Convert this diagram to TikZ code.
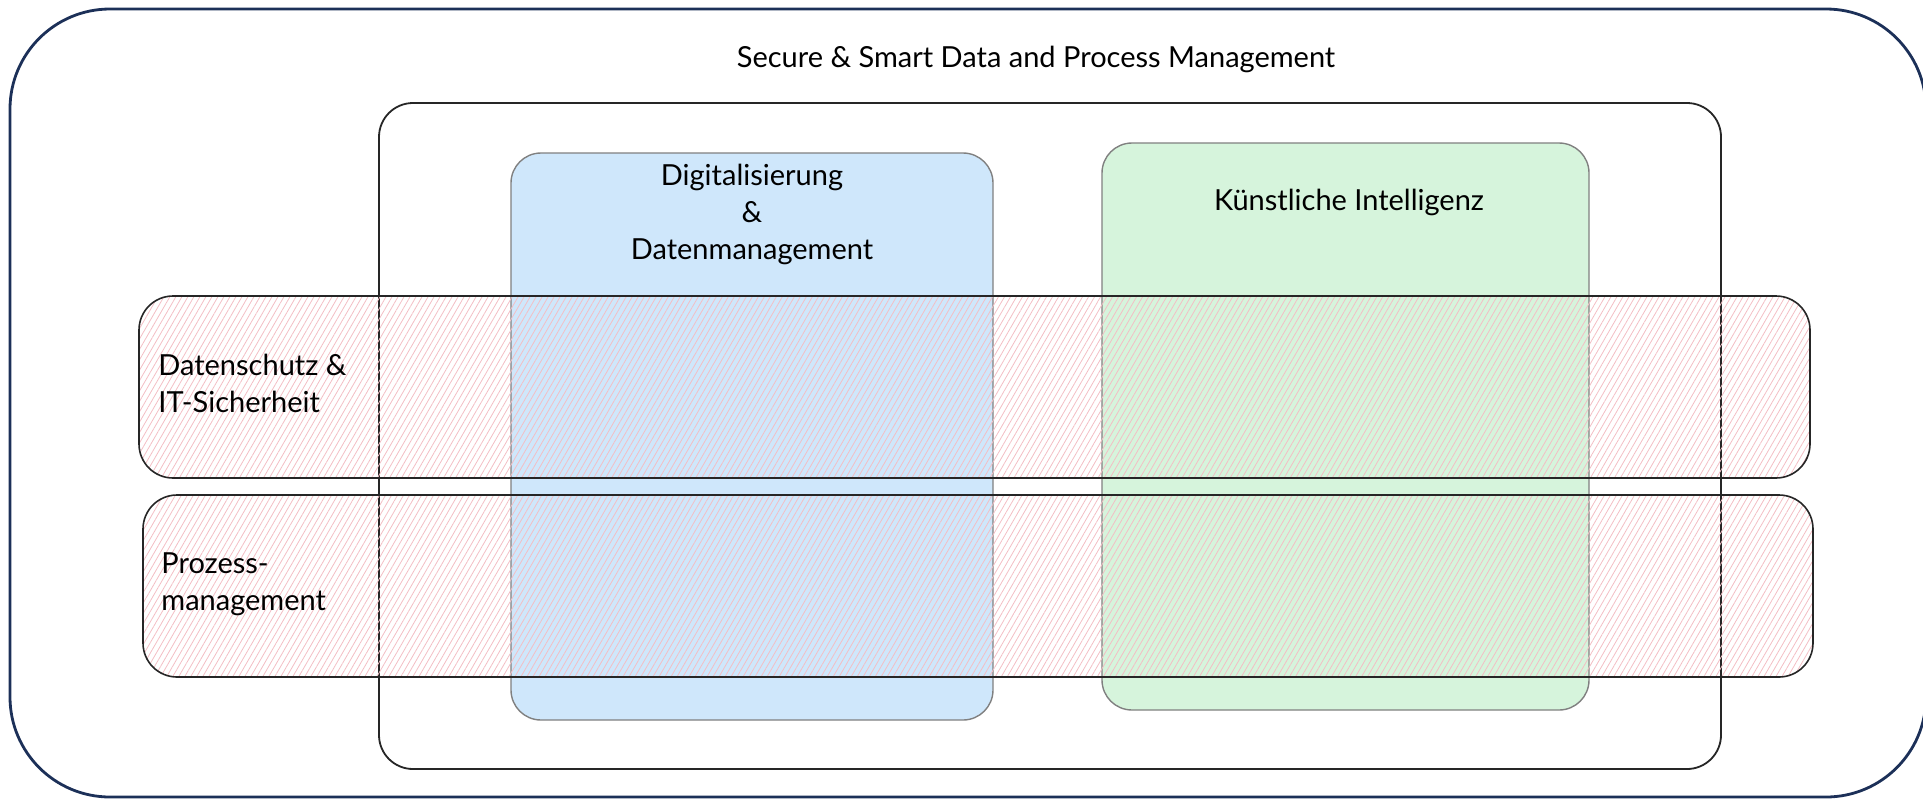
\documentclass[tikz,border=0pt]{standalone}
\usepackage{fontspec}
\setmainfont{Lato}
\definecolor{framenavy}{RGB}{28, 48, 88}
\definecolor{digiblue}{RGB}{207, 231, 251}
\definecolor{kigreen}{RGB}{214, 244, 220}
\definecolor{hatchpink}{RGB}{243, 190, 196}
\definecolor{boxgray}{RGB}{128, 128, 128}
\usetikzlibrary{patterns.meta}
\tikzset{
    framebox/.style={rectangle, rounded corners=50pt, draw=framenavy, line width=1.4pt, inner sep=0pt},
    groupbox/.style={rectangle, rounded corners=17pt, draw=black!85, line width=0.9pt, inner sep=0pt},
    areabox/.style={rectangle, rounded corners=15pt, draw=boxgray, line width=0.7pt, inner sep=0pt},
    bandbox/.style={rectangle, rounded corners=17pt, draw=black!85, line width=0.8pt, inner sep=0pt,
                    pattern={Lines[angle=60, distance=2.6pt, line width=0.4pt]}, pattern color=hatchpink},
    txt/.style={font=\fontsize{14.5}{18.5}\selectfont, align=center, inner sep=0pt},
}
\begin{document}
\begin{tikzpicture}[x=0.5pt, y=-0.5pt]
    \useasboundingbox (0,0) rectangle (1923,799);
    % outer frame
    \node[framebox, minimum width=958pt, minimum height=394pt] (outer) at (968,403) {};
    \node[txt] (title) at (1036,59) {Secure \& Smart Data and Process Management};

    % inner group
    \node[groupbox, minimum width=671pt, minimum height=333pt] (inner) at (1050,436) {};

    % columns
    \node[areabox, fill=digiblue, minimum width=241pt, minimum height=283.5pt] (digibox) at (752,436.5) {};
    \node[txt] (digilabel) at (752,214) {Digitalisierung\\\&\\Datenmanagement};
    \node[areabox, fill=kigreen, minimum width=243.5pt, minimum height=283.5pt] (kibox) at (1345.5,426.5) {};
    \node[txt] (kilabel) at (1349,202) {Künstliche Intelligenz};

    % bands
    \node[bandbox, minimum width=835.5pt, minimum height=91pt] (dsband) at (974.5,387) {};
    \node[txt, align=left, anchor=west] (dslabel) at (158,383) {Datenschutz \&\\IT-Sicherheit};
    \node[bandbox, minimum width=835pt, minimum height=91pt] (pmband) at (978,586) {};
    \node[txt, align=left, anchor=west] (pmlabel) at (161,584) {Prozess-\\management};
\end{tikzpicture}
\end{document}
